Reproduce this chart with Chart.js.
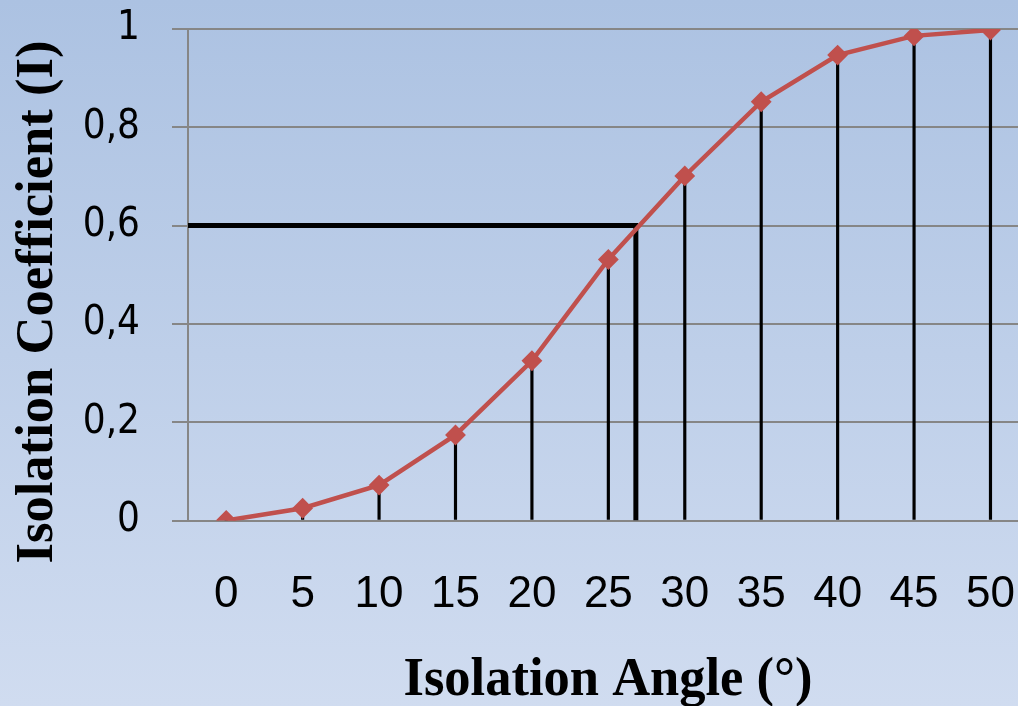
<!DOCTYPE html>
<html>
<head>
<meta charset="utf-8">
<title>Isolation Coefficient vs Isolation Angle</title>
<script src="https://cdn.jsdelivr.net/npm/chart.js@4/dist/chart.umd.min.js"></script>
<style>
  html, body { margin: 0; padding: 0; background: #c0d0ea; }
  canvas { display: block; }
</style>
</head>
<body>
<canvas id="chart" width="1018" height="706"></canvas>
<script>
// Isolation angle (degrees) and the matching isolation coefficient I
const angles = [0, 5, 10, 15, 20, 25, 30, 35, 40, 45, 50];
const coefficients = [0, 0.025, 0.072, 0.174, 0.325, 0.531, 0.701, 0.852, 0.947, 0.986, 0.998];

// Axis ticks
const xTickValues = [0, 5, 10, 15, 20, 25, 30, 35, 40, 45, 50];
const xTickLabels = ['0', '5', '10', '15', '20', '25', '30', '35', '40', '45', '50'];
const yTickValues = [0, 0.2, 0.4, 0.6, 0.8, 1];
const yTickLabels = ['0', '0,2', '0,4', '0,6', '0,8', '1'];

// Reading of the curve at I = 0.6
const thresholdCoefficient = 0.6;
const thresholdAngle = 26.8;

// Axis ranges
const xMin = -2.5;
const xMax = 51.8;

const xTitle = 'Isolation Angle (°)';
const yTitle = 'Isolation Coefficient (I)';

const curvePoints = angles.map((a, i) => ({ x: a, y: coefficients[i] }));
const guidePoints = [
  { x: xMin, y: thresholdCoefficient },
  { x: thresholdAngle, y: thresholdCoefficient },
  { x: thresholdAngle, y: 0 }
];

// Soft blue gradient behind everything
const backgroundPlugin = {
  id: 'gradientBackground',
  beforeDraw(chart) {
    const { ctx, width, height } = chart;
    const g = ctx.createLinearGradient(0, 0, 0, height);
    g.addColorStop(0, '#acc2e2');
    g.addColorStop(1, '#d0dcf0');
    ctx.save();
    ctx.fillStyle = g;
    ctx.fillRect(0, 0, width, height);
    ctx.restore();
  }
};

// Bold serif axis titles, narrowed slightly to their boxes
function drawTitle(ctx, text, x, y, size, targetWidth, rotation) {
  ctx.save();
  ctx.font = 'bold ' + size + 'px "Liberation Serif", "Times New Roman", serif';
  ctx.fillStyle = '#000';
  ctx.textAlign = 'center';
  ctx.textBaseline = 'alphabetic';
  const w = ctx.measureText(text).width;
  const sx = Math.min(1, targetWidth / w);
  ctx.translate(x, y);
  ctx.rotate(rotation);
  ctx.scale(sx, 1);
  ctx.fillText(text, 0, 0);
  ctx.restore();
}

const titlePlugin = {
  id: 'axisTitles',
  afterDraw(chart) {
    const ctx = chart.ctx;
    drawTitle(ctx, xTitle, 608, 695, 55, 409, 0);
    drawTitle(ctx, yTitle, 52, 302, 53, 523, -Math.PI / 2);
  }
};

// Let tick labels overhang the plot edges instead of shrinking it
function noEdgePadding(scale) {
  scale.paddingTop = 0;
  scale.paddingBottom = 0;
  scale.paddingLeft = 0;
  scale.paddingRight = 0;
}

new Chart(document.getElementById('chart'), {
  type: 'line',
  data: {
    datasets: [
      {
        label: 'I',
        data: curvePoints,
        borderColor: '#c0504d',
        backgroundColor: '#c0504d',
        borderWidth: 4.5,
        pointStyle: 'rectRot',
        pointRadius: 9,
        pointBorderWidth: 2,
        pointBorderColor: '#c0504d',
        pointBackgroundColor: '#c0504d',
        tension: 0,
        order: 0
      },
      {
        label: 'Threshold',
        data: guidePoints,
        borderColor: '#000000',
        borderWidth: 5,
        borderJoinStyle: 'miter',
        borderCapStyle: 'butt',
        pointRadius: 0,
        tension: 0,
        order: 1
      },
      {
        type: 'bar',
        label: 'Drop lines',
        data: curvePoints,
        backgroundColor: '#000000',
        borderWidth: 0,
        barThickness: 2.5,
        order: 2
      }
    ]
  },
  options: {
    responsive: false,
    animation: false,
    devicePixelRatio: 1,
    layout: { autoPadding: false, padding: { top: 29, left: 0, right: 0, bottom: 0 } },
    plugins: {
      legend: { display: false },
      tooltip: { enabled: false },
      title: { display: false }
    },
    scales: {
      x: {
        type: 'linear',
        offset: false,
        min: xMin,
        max: xMax,
        afterBuildTicks(scale) {
          scale.ticks = xTickValues.map(v => ({ value: v }));
        },
        afterFit(scale) {
          scale.height = 185.5;
          noEdgePadding(scale);
        },
        grid: { display: false, drawTicks: false, tickLength: 0, offset: false },
        border: { display: false },
        ticks: {
          padding: 48,
          maxRotation: 0,
          autoSkip: false,
          color: '#000',
          font: { family: '"Liberation Sans", Arial, sans-serif', size: 44 },
          callback(value) {
            const i = xTickValues.indexOf(value);
            return i >= 0 ? xTickLabels[i] : '';
          }
        },
        title: { display: false }
      },
      y: {
        type: 'linear',
        min: 0,
        max: 1,
        afterBuildTicks(scale) {
          scale.ticks = yTickValues.map(v => ({ value: v }));
        },
        afterFit(scale) {
          scale.width = 188;
          noEdgePadding(scale);
        },
        grid: {
          color: '#868686',
          lineWidth: 2,
          drawTicks: true,
          tickLength: 16,
          tickColor: '#868686',
          tickWidth: 2
        },
        border: { display: true, color: '#868686', width: 2 },
        ticks: {
          padding: 32,
          color: '#000',
          font: { family: '"DejaVu Sans Condensed", "DejaVu Sans", sans-serif', size: 40 },
          callback(value) {
            const i = yTickValues.findIndex(v => Math.abs(v - value) < 1e-9);
            return i >= 0 ? yTickLabels[i] : '';
          }
        },
        title: { display: false }
      }
    }
  },
  plugins: [backgroundPlugin, titlePlugin]
});
</script>
</body>
</html>
